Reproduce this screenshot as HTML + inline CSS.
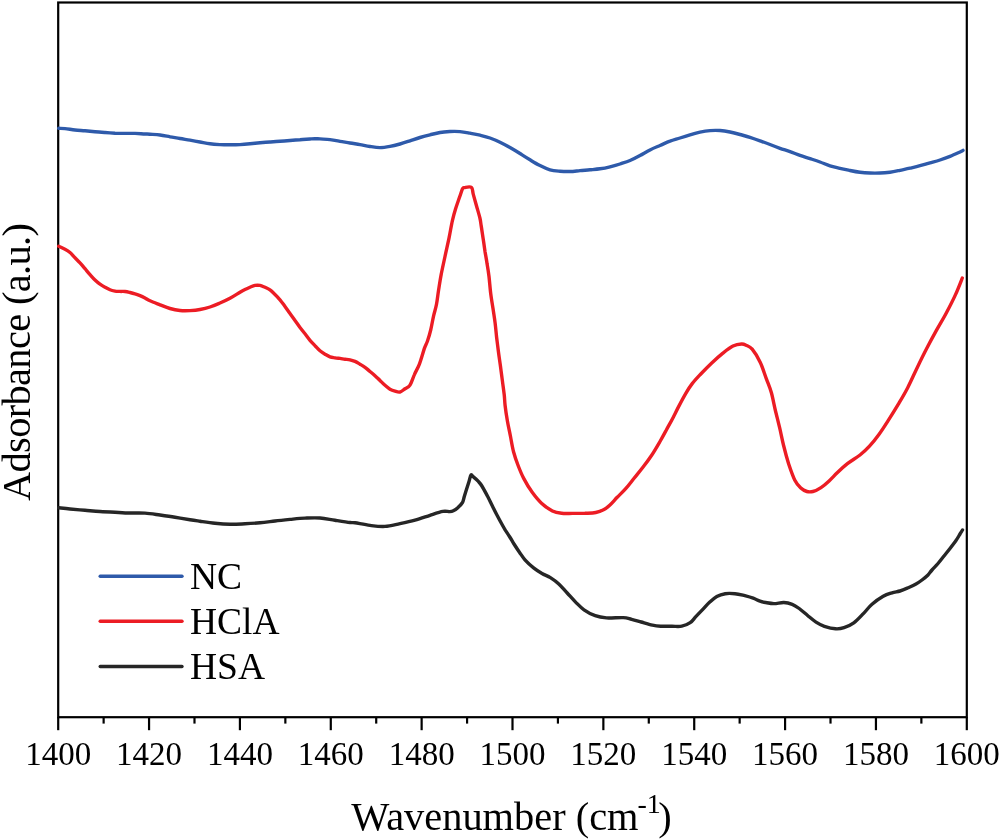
<!DOCTYPE html>
<html><head><meta charset="utf-8"><style>
html,body{margin:0;padding:0;background:#fff;}
body{width:1000px;height:839px;overflow:hidden;font-family:"Liberation Serif",serif;}
svg{display:block;will-change:transform;}
</style></head><body>
<svg width="1000" height="839" viewBox="0 0 1000 839">
<rect width="1000" height="839" fill="#fff"/>
<g stroke="#000" stroke-width="2.2" fill="none">
<rect x="58.2" y="2.5" width="908.6" height="714.7"/>
<line x1="58.20" y1="717.2" x2="58.20" y2="730.2"/><line x1="103.63" y1="717.2" x2="103.63" y2="723.6"/><line x1="149.06" y1="717.2" x2="149.06" y2="730.2"/><line x1="194.49" y1="717.2" x2="194.49" y2="723.6"/><line x1="239.92" y1="717.2" x2="239.92" y2="730.2"/><line x1="285.35" y1="717.2" x2="285.35" y2="723.6"/><line x1="330.78" y1="717.2" x2="330.78" y2="730.2"/><line x1="376.21" y1="717.2" x2="376.21" y2="723.6"/><line x1="421.64" y1="717.2" x2="421.64" y2="730.2"/><line x1="467.07" y1="717.2" x2="467.07" y2="723.6"/><line x1="512.50" y1="717.2" x2="512.50" y2="730.2"/><line x1="557.93" y1="717.2" x2="557.93" y2="723.6"/><line x1="603.36" y1="717.2" x2="603.36" y2="730.2"/><line x1="648.79" y1="717.2" x2="648.79" y2="723.6"/><line x1="694.22" y1="717.2" x2="694.22" y2="730.2"/><line x1="739.65" y1="717.2" x2="739.65" y2="723.6"/><line x1="785.08" y1="717.2" x2="785.08" y2="730.2"/><line x1="830.51" y1="717.2" x2="830.51" y2="723.6"/><line x1="875.94" y1="717.2" x2="875.94" y2="730.2"/><line x1="921.37" y1="717.2" x2="921.37" y2="723.6"/><line x1="966.80" y1="717.2" x2="966.80" y2="730.2"/>
</g>
<g fill="none" stroke-width="3.4" stroke-linejoin="round" stroke-linecap="round">
<path stroke="#2e5aaa" d="M58.7,128.3 C59.8,128.4 62.3,128.3 65.0,128.6 C67.7,128.9 71.7,129.6 75.0,130.0 C78.3,130.4 81.7,130.5 85.0,130.8 C88.3,131.1 91.7,131.5 95.0,131.8 C98.3,132.1 101.7,132.3 105.0,132.5 C108.3,132.7 111.7,133.0 115.0,133.2 C118.3,133.3 121.7,133.4 125.0,133.4 C128.3,133.4 131.7,133.3 135.0,133.4 C138.3,133.5 142.5,133.9 145.0,134.0 C147.5,134.1 147.5,134.0 150.0,134.2 C152.5,134.4 156.7,134.6 160.0,135.0 C163.3,135.4 166.7,136.2 170.0,136.8 C173.3,137.4 176.7,137.9 180.0,138.5 C183.3,139.1 186.7,139.6 190.0,140.2 C193.3,140.8 196.7,141.4 200.0,142.0 C203.3,142.6 206.7,143.4 210.0,143.8 C213.3,144.2 216.7,144.4 220.0,144.6 C223.3,144.8 226.7,144.8 230.0,144.8 C233.3,144.8 236.7,144.8 240.0,144.6 C243.3,144.4 246.7,144.1 250.0,143.8 C253.3,143.5 256.7,143.1 260.0,142.8 C263.3,142.5 266.7,142.2 270.0,142.0 C273.3,141.8 276.7,141.6 280.0,141.3 C283.3,141.1 286.7,140.8 290.0,140.5 C293.3,140.2 296.7,139.9 300.0,139.7 C303.3,139.4 307.5,139.2 310.0,139.0 C312.5,138.8 313.3,138.7 315.0,138.7 C316.7,138.7 317.5,138.8 320.0,138.9 C322.5,139.1 326.7,139.2 330.0,139.6 C333.3,140.0 336.7,140.7 340.0,141.3 C343.3,141.9 346.7,142.4 350.0,143.0 C353.3,143.6 356.7,144.0 360.0,144.6 C363.3,145.2 366.7,146.0 370.0,146.5 C373.3,147.0 376.7,147.6 380.0,147.6 C383.3,147.6 386.7,147.0 390.0,146.4 C393.3,145.8 396.7,144.9 400.0,144.0 C403.3,143.1 406.7,141.9 410.0,140.8 C413.3,139.7 416.7,138.5 420.0,137.5 C423.3,136.5 426.7,135.6 430.0,134.8 C433.3,134.0 436.7,133.1 440.0,132.5 C443.3,131.9 446.7,131.7 450.0,131.5 C453.3,131.3 456.7,131.3 460.0,131.6 C463.3,131.9 466.7,132.6 470.0,133.2 C473.3,133.8 476.7,134.4 480.0,135.2 C483.3,136.0 486.7,136.8 490.0,138.0 C493.3,139.2 496.7,140.6 500.0,142.2 C503.3,143.8 506.7,145.6 510.0,147.5 C513.3,149.4 516.7,151.4 520.0,153.5 C523.3,155.6 526.7,157.8 530.0,159.8 C533.3,161.8 536.7,163.9 540.0,165.6 C543.3,167.3 546.7,168.9 550.0,169.8 C553.3,170.7 556.7,170.9 560.0,171.2 C563.3,171.5 566.7,171.6 570.0,171.5 C573.3,171.4 576.7,170.9 580.0,170.6 C583.3,170.3 586.7,170.1 590.0,169.8 C593.3,169.5 596.7,169.3 600.0,168.8 C603.3,168.3 606.7,167.6 610.0,166.8 C613.3,166.0 616.7,165.1 620.0,164.0 C623.3,162.9 626.7,161.9 630.0,160.5 C633.3,159.1 636.7,157.3 640.0,155.5 C643.3,153.7 646.7,151.6 650.0,149.9 C653.3,148.2 656.7,146.9 660.0,145.5 C663.3,144.1 666.7,142.4 670.0,141.2 C673.3,139.9 676.7,139.1 680.0,138.0 C683.3,136.9 686.7,135.8 690.0,134.8 C693.3,133.8 696.7,132.9 700.0,132.2 C703.3,131.5 706.7,130.9 710.0,130.6 C713.3,130.3 716.7,130.3 720.0,130.5 C723.3,130.7 726.7,131.3 730.0,132.0 C733.3,132.7 736.7,133.6 740.0,134.5 C743.3,135.4 746.7,136.2 750.0,137.3 C753.3,138.4 756.7,139.6 760.0,140.8 C763.3,142.0 766.7,143.2 770.0,144.5 C773.3,145.8 776.7,147.1 780.0,148.3 C783.3,149.5 786.7,150.4 790.0,151.6 C793.3,152.8 796.7,154.2 800.0,155.4 C803.3,156.6 806.7,157.5 810.0,158.6 C813.3,159.7 816.7,160.8 820.0,162.0 C823.3,163.2 826.7,164.8 830.0,165.8 C833.3,166.9 836.7,167.5 840.0,168.3 C843.3,169.1 846.7,169.8 850.0,170.5 C853.3,171.2 856.7,171.9 860.0,172.3 C863.3,172.7 866.7,172.9 870.0,173.0 C873.3,173.1 876.7,173.1 880.0,173.0 C883.3,172.9 886.7,172.6 890.0,172.2 C893.3,171.8 896.7,171.0 900.0,170.3 C903.3,169.6 906.7,169.0 910.0,168.2 C913.3,167.4 916.7,166.6 920.0,165.7 C923.3,164.8 926.7,163.8 930.0,162.8 C933.3,161.9 936.7,161.1 940.0,160.0 C943.3,158.9 946.7,157.7 950.0,156.4 C953.3,155.1 957.8,153.0 960.0,152.0 C962.2,151.0 962.5,150.7 963.0,150.4"/>
<path stroke="#ec1c24" d="M58.7,246.3 C59.8,246.8 63.1,248.3 65.0,249.3 C66.9,250.3 68.3,251.1 70.0,252.5 C71.7,253.9 73.3,256.1 75.0,257.8 C76.7,259.5 78.3,261.0 80.0,262.8 C81.7,264.6 83.3,266.7 85.0,268.7 C86.7,270.7 88.3,272.7 90.0,274.6 C91.7,276.5 93.3,278.4 95.0,280.0 C96.7,281.6 98.3,283.0 100.0,284.2 C101.7,285.4 103.3,286.3 105.0,287.2 C106.7,288.1 108.3,289.1 110.0,289.8 C111.7,290.5 113.3,290.8 115.0,291.1 C116.7,291.4 118.3,291.3 120.0,291.4 C121.7,291.5 123.3,291.3 125.0,291.5 C126.7,291.7 128.3,292.1 130.0,292.5 C131.7,292.9 133.3,293.3 135.0,293.8 C136.7,294.3 138.3,294.9 140.0,295.6 C141.7,296.3 143.3,297.1 145.0,298.0 C146.7,298.9 147.5,299.7 150.0,300.8 C152.5,301.9 156.7,303.5 160.0,304.8 C163.3,306.1 166.7,307.6 170.0,308.5 C173.3,309.4 176.7,310.1 180.0,310.5 C183.3,310.9 186.7,310.8 190.0,310.6 C193.3,310.4 196.7,310.1 200.0,309.5 C203.3,308.9 206.7,308.1 210.0,307.0 C213.3,305.9 216.7,304.4 220.0,303.0 C223.3,301.6 226.7,300.1 230.0,298.3 C233.3,296.5 237.5,293.7 240.0,292.2 C242.5,290.7 243.3,290.3 245.0,289.5 C246.7,288.7 248.3,287.9 250.0,287.2 C251.7,286.5 253.3,285.7 255.0,285.4 C256.7,285.1 258.3,285.1 260.0,285.4 C261.7,285.7 263.3,286.6 265.0,287.3 C266.7,288.1 268.3,288.7 270.0,289.9 C271.7,291.1 273.3,292.8 275.0,294.4 C276.7,296.0 278.3,297.8 280.0,299.8 C281.7,301.8 283.3,304.2 285.0,306.5 C286.7,308.8 288.3,311.3 290.0,313.6 C291.7,315.9 293.3,318.2 295.0,320.5 C296.7,322.8 298.3,325.3 300.0,327.5 C301.7,329.7 303.3,331.7 305.0,333.8 C306.7,335.9 308.3,338.3 310.0,340.3 C311.7,342.3 313.3,343.9 315.0,345.7 C316.7,347.4 318.3,349.4 320.0,350.8 C321.7,352.2 323.3,353.2 325.0,354.2 C326.7,355.2 328.3,356.2 330.0,356.8 C331.7,357.4 333.3,357.5 335.0,357.8 C336.7,358.1 338.3,358.2 340.0,358.4 C341.7,358.6 343.3,359.0 345.0,359.2 C346.7,359.4 348.3,359.4 350.0,359.8 C351.7,360.2 353.3,360.7 355.0,361.4 C356.7,362.1 358.3,363.2 360.0,364.2 C361.7,365.2 363.3,366.1 365.0,367.3 C366.7,368.5 368.3,370.1 370.0,371.5 C371.7,372.9 373.3,374.2 375.0,375.7 C376.7,377.2 378.3,378.9 380.0,380.5 C381.7,382.1 383.3,383.8 385.0,385.2 C386.7,386.6 388.3,388.2 390.0,389.2 C391.7,390.2 393.3,390.7 395.0,391.2 C396.7,391.7 398.3,392.4 400.0,392.0 C401.7,391.6 403.3,389.9 405.0,388.8 C406.7,387.7 408.4,387.5 410.0,385.1 C411.6,382.7 412.8,378.1 414.4,374.6 C415.9,371.1 417.6,368.6 419.3,364.3 C421.0,360.0 423.0,352.5 424.3,348.6 C425.6,344.8 426.3,344.3 427.4,341.2 C428.5,338.1 429.7,334.2 430.7,330.0 C431.7,325.8 432.6,320.1 433.6,315.8 C434.6,311.5 435.7,308.6 436.5,304.3 C437.3,300.0 437.8,295.0 438.6,290.0 C439.4,285.0 440.1,280.1 441.2,274.4 C442.3,268.7 443.8,262.1 445.1,256.0 C446.4,249.9 447.9,243.6 449.1,237.7 C450.3,231.8 451.3,225.4 452.4,220.6 C453.5,215.8 454.4,212.7 455.6,208.8 C456.8,204.9 458.5,200.3 459.6,197.0 C460.8,193.7 461.7,190.4 462.5,188.8 C463.3,187.2 463.0,187.8 464.5,187.6 C466.0,187.4 469.9,186.3 471.4,187.4 C472.9,188.5 472.4,191.3 473.3,194.4 C474.2,197.5 475.5,202.3 476.6,206.2 C477.7,210.1 479.1,214.7 479.9,218.0 C480.7,221.3 480.6,222.4 481.2,225.9 C481.8,229.4 482.5,234.6 483.2,239.0 C483.9,243.4 484.5,247.9 485.1,252.1 C485.8,256.2 486.5,259.8 487.1,263.9 C487.8,268.0 488.4,271.4 489.0,276.5 C489.6,281.6 490.1,288.9 490.8,294.3 C491.5,299.7 492.3,303.8 493.0,308.6 C493.7,313.4 494.5,318.1 495.1,322.9 C495.7,327.7 496.1,332.4 496.6,337.2 C497.2,342.0 497.8,346.7 498.4,351.5 C499.0,356.3 499.8,361.0 500.4,365.8 C501.0,370.6 501.7,375.3 502.3,380.1 C502.9,384.9 503.7,390.3 504.2,394.5 C504.7,398.7 504.6,401.1 505.1,405.5 C505.6,409.9 506.5,415.8 507.4,421.0 C508.3,426.2 509.5,431.3 510.5,436.5 C511.5,441.7 512.3,447.1 513.6,452.0 C514.9,456.9 516.6,461.6 518.3,466.0 C520.0,470.4 521.4,474.0 523.7,478.4 C526.0,482.8 529.2,488.2 532.2,492.3 C535.2,496.4 538.1,500.1 541.5,503.2 C544.9,506.3 549.0,509.2 552.4,510.9 C555.8,512.6 558.4,512.9 561.7,513.3 C565.1,513.7 568.6,513.4 572.5,513.4 C576.4,513.4 581.0,513.4 584.9,513.3 C588.8,513.1 592.7,513.1 595.8,512.5 C598.9,511.9 601.2,511.0 603.5,509.8 C605.8,508.6 607.4,507.3 609.7,505.2 C612.0,503.1 614.5,500.1 617.2,497.3 C619.9,494.6 622.9,491.9 625.7,488.7 C628.6,485.5 631.4,481.6 634.3,478.0 C637.2,474.4 640.0,471.1 642.9,467.3 C645.8,463.6 648.6,459.8 651.5,455.5 C654.4,451.2 657.5,445.8 660.0,441.5 C662.5,437.2 664.4,433.6 666.5,429.7 C668.6,425.8 670.8,422.0 672.9,417.9 C675.0,413.8 677.2,409.2 679.4,405.1 C681.5,401.0 683.7,396.9 685.8,393.3 C687.9,389.7 689.7,386.8 692.2,383.6 C694.7,380.4 697.6,377.4 700.8,374.0 C704.0,370.6 707.9,366.6 711.5,363.2 C715.1,359.8 718.7,356.5 722.3,353.6 C725.9,350.8 729.8,347.7 733.0,346.1 C736.2,344.5 739.4,344.1 741.6,344.0 C743.8,343.9 744.3,344.3 746.1,345.2 C747.9,346.1 749.8,346.3 752.2,349.2 C754.6,352.1 757.9,357.5 760.3,362.4 C762.6,367.3 764.4,373.5 766.3,378.6 C768.1,383.7 769.9,387.4 771.4,392.8 C772.9,398.2 774.1,405.3 775.5,411.0 C776.9,416.7 778.1,421.4 779.5,427.2 C780.9,432.9 782.1,439.4 783.6,445.5 C785.1,451.6 786.8,458.0 788.6,463.7 C790.5,469.4 792.7,475.8 794.7,479.9 C796.7,483.9 798.8,486.1 800.8,488.0 C802.8,489.9 804.9,490.9 806.9,491.5 C808.9,492.1 810.5,492.1 812.9,491.5 C815.2,490.9 818.3,489.4 821.0,487.6 C823.7,485.8 826.4,483.4 829.1,480.9 C831.8,478.4 834.2,475.7 837.2,472.8 C840.2,469.9 843.6,466.7 847.4,463.7 C851.2,460.7 856.3,457.9 860.0,455.0 C863.7,452.1 866.3,449.7 869.5,446.2 C872.7,442.7 875.9,438.6 879.1,434.2 C882.3,429.8 885.4,424.9 888.6,419.9 C891.8,414.9 895.0,409.8 898.2,404.4 C901.4,399.0 904.5,393.9 907.7,387.7 C910.9,381.5 914.1,374.0 917.3,367.4 C920.5,360.8 923.6,354.5 926.8,348.3 C930.0,342.1 933.2,336.2 936.4,330.4 C939.6,324.6 942.7,319.7 945.9,313.7 C949.1,307.7 952.8,300.6 955.5,294.6 C958.2,288.7 961.2,280.8 962.3,278.0"/>
<path stroke="#262626" d="M58.7,507.8 C60.6,508.0 65.6,508.6 70.0,509.0 C74.4,509.4 80.0,509.9 85.0,510.3 C90.0,510.7 95.0,511.2 100.0,511.5 C105.0,511.8 110.0,512.0 115.0,512.2 C120.0,512.5 125.0,512.9 130.0,513.0 C135.0,513.1 140.0,512.8 145.0,513.1 C150.0,513.4 155.0,514.3 160.0,515.0 C165.0,515.7 170.0,516.4 175.0,517.2 C180.0,518.0 185.8,519.0 190.0,519.7 C194.2,520.4 195.8,520.6 200.0,521.2 C204.2,521.8 210.0,522.7 215.0,523.2 C220.0,523.7 225.0,524.1 230.0,524.2 C235.0,524.3 240.0,524.0 245.0,523.8 C250.0,523.6 255.0,523.3 260.0,522.8 C265.0,522.3 270.0,521.6 275.0,521.0 C280.0,520.4 285.0,519.9 290.0,519.4 C295.0,518.9 300.0,518.3 305.0,518.1 C310.0,517.9 315.0,517.6 320.0,518.0 C325.0,518.4 330.0,519.5 335.0,520.2 C340.0,521.0 346.7,522.1 350.0,522.5 C353.3,522.9 351.7,522.3 355.0,522.8 C358.3,523.3 365.0,524.8 370.0,525.4 C375.0,526.0 380.0,526.7 385.0,526.4 C390.0,526.1 395.0,524.6 400.0,523.6 C405.0,522.6 410.0,521.6 415.0,520.2 C420.0,518.8 425.4,516.8 430.0,515.3 C434.6,513.8 439.6,512.0 442.9,511.4 C446.1,510.8 447.8,511.7 449.5,511.6 C451.2,511.5 451.9,511.5 453.3,510.8 C454.7,510.1 456.6,508.8 458.1,507.4 C459.6,506.0 461.4,504.5 462.4,502.7 C463.4,500.9 463.6,498.8 464.3,496.5 C465.0,494.2 465.9,491.4 466.7,488.8 C467.5,486.2 468.4,483.5 469.1,481.2 C469.8,478.9 470.3,475.7 471.0,475.0 C471.7,474.3 472.2,475.9 473.4,476.9 C474.6,477.9 476.7,479.7 478.1,481.2 C479.5,482.7 480.3,483.4 481.9,486.0 C483.5,488.6 485.9,493.2 487.7,496.5 C489.4,499.8 490.8,502.8 492.4,506.0 C494.0,509.2 495.4,512.2 497.2,515.5 C498.9,518.8 501.5,523.5 502.9,526.0 C504.3,528.5 504.5,528.8 505.6,530.6 C506.8,532.4 508.4,534.8 509.8,537.0 C511.2,539.2 512.4,541.4 514.0,544.0 C515.6,546.6 517.7,549.7 519.6,552.4 C521.5,555.1 522.9,557.5 525.2,560.1 C527.5,562.7 530.8,565.6 533.6,567.8 C536.4,570.0 539.2,571.8 542.0,573.4 C544.8,575.0 547.6,575.9 550.4,577.6 C553.2,579.4 556.0,581.3 558.8,583.9 C561.6,586.5 564.4,590.0 567.2,593.0 C570.0,596.0 572.8,599.3 575.6,602.1 C578.4,604.9 580.7,607.5 584.0,609.8 C587.3,612.1 591.5,614.4 595.2,615.7 C598.9,617.1 601.7,617.6 606.4,617.9 C611.1,618.2 619.0,617.4 623.2,617.6 C627.4,617.8 628.6,618.6 631.6,619.3 C634.6,620.0 637.7,621.0 641.2,622.0 C644.7,623.0 649.1,624.4 652.4,625.1 C655.7,625.8 657.5,626.0 660.8,626.2 C664.1,626.4 668.5,626.3 672.0,626.3 C675.5,626.3 678.8,626.8 681.8,626.2 C684.8,625.6 687.9,624.3 690.2,622.7 C692.5,621.1 693.7,618.9 695.8,616.7 C697.9,614.5 700.5,611.8 702.8,609.4 C705.1,607.0 707.5,604.2 709.8,602.1 C712.1,600.0 714.2,597.9 716.8,596.5 C719.4,595.1 722.2,594.2 725.2,593.7 C728.2,593.2 731.7,593.4 735.0,593.7 C738.3,594.0 741.8,595.0 744.8,595.7 C747.8,596.5 750.7,597.3 753.2,598.2 C755.7,599.1 757.9,600.4 760.0,601.1 C762.1,601.8 763.3,602.1 765.6,602.5 C767.9,602.9 771.0,603.6 774.0,603.6 C777.0,603.6 780.8,602.4 783.8,602.5 C786.8,602.6 789.6,603.3 792.2,604.3 C794.8,605.3 796.6,606.6 799.2,608.5 C801.8,610.4 804.8,613.2 807.6,615.5 C810.4,617.8 813.2,620.3 816.0,622.1 C818.8,623.9 821.1,625.2 824.4,626.3 C827.7,627.4 832.3,628.6 835.6,628.8 C838.9,629.0 841.0,628.7 844.0,627.7 C847.0,626.7 850.5,625.3 853.8,622.9 C857.1,620.5 860.6,616.5 863.6,613.4 C866.6,610.3 868.7,607.1 872.0,604.3 C875.3,601.4 879.9,598.2 883.2,596.3 C886.5,594.4 889.2,593.7 892.0,592.8 C894.8,591.9 897.3,591.8 900.0,591.0 C902.7,590.2 905.3,589.0 908.0,587.8 C910.7,586.6 913.7,585.3 916.0,584.0 C918.3,582.7 920.0,581.5 922.0,580.0 C924.0,578.5 926.3,576.7 928.0,575.0 C929.7,573.3 930.3,571.9 932.0,570.0 C933.7,568.1 936.0,565.8 938.0,563.5 C940.0,561.2 942.0,558.5 944.0,556.0 C946.0,553.5 948.0,551.1 950.0,548.5 C952.0,545.9 954.3,542.9 956.0,540.5 C957.7,538.1 958.9,535.8 960.0,534.0 C961.1,532.2 962.1,530.7 962.5,530.0"/>
</g>
<g font-family="Liberation Serif" font-size="33" text-anchor="middle" fill="#000">
<text x="58.20" y="765.1">1400</text><text x="149.06" y="765.1">1420</text><text x="239.92" y="765.1">1440</text><text x="330.78" y="765.1">1460</text><text x="421.64" y="765.1">1480</text><text x="512.50" y="765.1">1500</text><text x="603.36" y="765.1">1520</text><text x="694.22" y="765.1">1540</text><text x="785.08" y="765.1">1560</text><text x="875.94" y="765.1">1580</text><text x="966.80" y="765.1">1600</text>
</g>
<text x="351.3" y="830" font-family="Liberation Serif" font-size="40.4" fill="#000">Wavenumber (cm<tspan font-size="28" dy="-17.5" dx="-1">-1</tspan><tspan dy="17.5" dx="-2.5">)</tspan></text>
<text transform="translate(30.2,501) rotate(-90)" x="0" y="0" font-family="Liberation Serif" font-size="40.4" textLength="278" lengthAdjust="spacing" fill="#000">Adsorbance (a.u.)</text>
<g stroke-width="3.4" stroke-linecap="round">
<line x1="100.2" y1="576.3" x2="182" y2="576.3" stroke="#2e5aaa"/>
<line x1="100.2" y1="621.3" x2="182" y2="621.3" stroke="#ec1c24"/>
<line x1="100.2" y1="666.5" x2="182" y2="666.5" stroke="#262626"/>
</g>
<g font-family="Liberation Serif" font-size="37.5" fill="#000">
<text x="190" y="588.6">NC</text>
<text x="190" y="634.2">HClA</text>
<text x="190" y="678.8">HSA</text>
</g>
</svg>
</body></html>
